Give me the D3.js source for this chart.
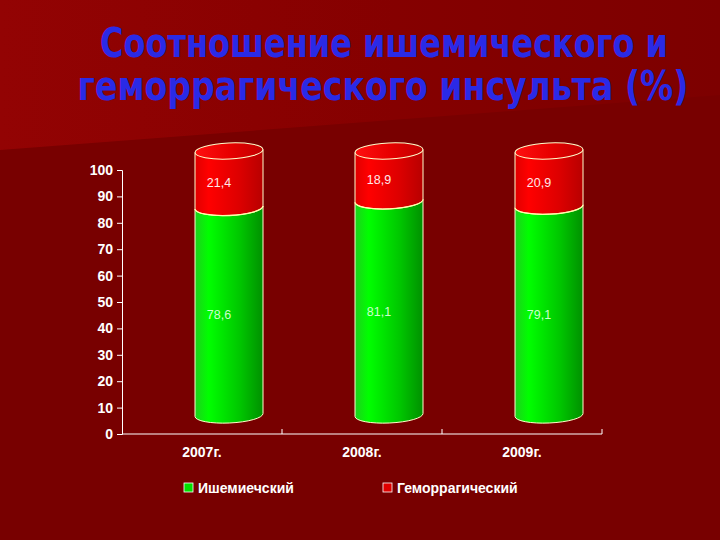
<!DOCTYPE html>
<html>
<head>
<meta charset="utf-8">
<script src="https://cdn.jsdelivr.net/npm/d3@7"></script>
<style>
  body { margin: 0; background: #780000; }
  svg { display: block; }
</style>
</head>
<body>
<div id="container"></div>
<script>
// chart data
var years = ["2007г.", "2008г.", "2009г."];
var ischemic = [78.6, 81.1, 79.1];
var hemorrhagic = [21.4, 18.9, 20.9];
var seriesNames = ["Ишемиечский", "Геморрагический"];
var yTicks = [0, 10, 20, 30, 40, 50, 60, 70, 80, 90, 100];
var titleLines = ["Соотношение ишемического и", "геморрагического инсульта (%)"];

var W = 720, H = 540;
var fmt = function (d) { return d3.format(".1f")(d).replace(".", ","); };

var svg = d3.select("#container").append("svg")
    .attr("width", W)
    .attr("height", H);

var defs = svg.append("defs");

function hGrad(id, stops) {
    var g = defs.append("linearGradient").attr("id", id)
        .attr("x1", "0%").attr("x2", "100%").attr("y1", "0%").attr("y2", "0%");
    stops.forEach(function (s) {
        g.append("stop").attr("offset", s[0]).attr("stop-color", s[1]);
    });
}
hGrad("bgTop", [["0%", "#930303"], ["55%", "#850000"], ["100%", "#7d0000"]]);
hGrad("gGreen", [["0%", "#1ed01e"], ["20%", "#00ff00"], ["65%", "#00c800"], ["100%", "#009000"]]);
hGrad("gRed", [["0%", "#e00000"], ["20%", "#ff0000"], ["65%", "#dd0000"], ["100%", "#b80000"]]);
hGrad("gRedTop", [["0%", "#ff1010"], ["50%", "#e80000"], ["100%", "#c00000"]]);

// background
svg.append("rect").attr("width", W).attr("height", H).attr("fill", "#780000");
svg.append("polygon")
    .attr("points", "0,0 720,0 720,95 0,150")
    .attr("fill", "url(#bgTop)");

// title, squeezed horizontally to the width of the original
var titleX = [384, 383], titleY = [57, 100], titleW = [568, 611];
titleLines.forEach(function (t, i) {
    var g = svg.append("g");
    var txt = g.append("text")
        .attr("text-anchor", "middle")
        .attr("font-family", "DejaVu Sans Condensed, DejaVu Sans")
        .attr("font-weight", "bold")
        .attr("font-size", 40)
        .attr("fill", "#2a2ae6")
        .text(t);
    var k = titleW[i] / txt.node().getComputedTextLength();
    g.attr("transform", "translate(" + titleX[i] + "," + titleY[i] + ") scale(" + k + ",1)");
});

// scales
var x = d3.scaleBand().domain(years).range([122, 602]);
var y = d3.scaleLinear().domain([0, 100]).range([434, 170]);

// 3D depth offset of the cylinders
var dx = 27, dy = -19;
var rx = 34, ry = 8, tilt = 1.5;
var tiltDeg = -Math.asin(tilt / rx) * 180 / Math.PI;

// y axis
var yAxis = svg.append("g")
    .attr("transform", "translate(122,0)")
    .call(d3.axisLeft(y).tickValues(yTicks).tickSize(5).tickPadding(4));
yAxis.select(".domain").attr("stroke", "#ffffff");
yAxis.selectAll(".tick line").attr("stroke", "#ffffff");
yAxis.selectAll("text")
    .attr("fill", "#ffffff")
    .attr("font-family", "Liberation Sans")
    .attr("font-weight", "bold")
    .attr("font-size", 14);

// x axis
var xAxis = svg.append("g")
    .attr("transform", "translate(0,434)")
    .call(d3.axisBottom(x).tickSize(0).tickPadding(13));
xAxis.select(".domain").attr("stroke", "#ffffff").attr("d", "M122,0H602");
xAxis.selectAll("text")
    .attr("fill", "#ffffff")
    .attr("font-family", "Liberation Sans")
    .attr("font-weight", "bold")
    .attr("font-size", 14);
xAxis.selectAll(".sep")
    .data(years)
    .enter()
    .append("line")
    .attr("x1", function (d) { return x(d) + x.bandwidth(); })
    .attr("x2", function (d) { return x(d) + x.bandwidth(); })
    .attr("y1", -5)
    .attr("y2", 0)
    .attr("stroke", "#ffffff");

// cylinder pieces
function cx(d) { return x(d) + x.bandwidth() / 2 + dx; }

function bodyPath(c, v0, v1) {
    var yb = y(v0) + dy, yt = y(v1) + dy;
    return "M" + (c - rx) + "," + (yt + tilt) +
        "L" + (c - rx) + "," + (yb + tilt) +
        "A" + rx + "," + ry + " " + tiltDeg + " 0 0 " + (c + rx) + "," + (yb - tilt) +
        "L" + (c + rx) + "," + (yt - tilt) + "Z";
}
function frontArc(c, v) {
    var yy = y(v) + dy;
    return "M" + (c - rx) + "," + (yy + tilt) +
        "A" + rx + "," + ry + " " + tiltDeg + " 0 0 " + (c + rx) + "," + (yy - tilt);
}

var rows = years.map(function (d, i) { return { year: d, a: ischemic[i], b: hemorrhagic[i] }; });

var cyl = svg.append("g");

// green (ischemic) part
cyl.selectAll("path.green")
    .data(rows)
    .enter()
    .append("path")
    .attr("class", "green")
    .attr("d", function (d) { return bodyPath(cx(d.year), 0, d.a); })
    .attr("fill", "url(#gGreen)")
    .attr("stroke", "#ffffcc")
    .attr("stroke-width", 1);

// red (hemorrhagic) part
cyl.selectAll("path.red")
    .data(rows)
    .enter()
    .append("path")
    .attr("class", "red")
    .attr("d", function (d) { return bodyPath(cx(d.year), d.a, d.a + d.b); })
    .attr("fill", "url(#gRed)")
    .attr("stroke", "#ffffcc")
    .attr("stroke-width", 1);

cyl.selectAll("path.joint")
    .data(rows)
    .enter()
    .append("path")
    .attr("d", function (d) { return frontArc(cx(d.year), d.a); })
    .attr("fill", "none")
    .attr("stroke", "#ffffaa")
    .attr("stroke-width", 1.3);

cyl.selectAll("ellipse.top")
    .data(rows)
    .enter()
    .append("ellipse")
    .attr("cx", function (d) { return cx(d.year); })
    .attr("cy", function (d) { return y(d.a + d.b) + dy; })
    .attr("rx", rx)
    .attr("ry", ry)
    .attr("transform", function (d) {
        return "rotate(" + tiltDeg + "," + cx(d.year) + "," + (y(d.a + d.b) + dy) + ")";
    })
    .attr("fill", "url(#gRedTop)")
    .attr("stroke", "#ffffcc")
    .attr("stroke-width", 1);

// value labels
cyl.selectAll("text.la")
    .data(rows)
    .enter()
    .append("text")
    .attr("x", function (d) { return cx(d.year) - 10; })
    .attr("y", function (d) { return y(d.a / 2) + dy + 8; })
    .attr("text-anchor", "middle")
    .attr("font-family", "Liberation Sans")
    .attr("font-size", 12.5)
    .attr("fill", "#ccffcc")
    .text(function (d) { return fmt(d.a); });

cyl.selectAll("text.lb")
    .data(rows)
    .enter()
    .append("text")
    .attr("x", function (d) { return cx(d.year) - 10; })
    .attr("y", function (d) { return y(d.a + d.b / 2) + dy + 8; })
    .attr("text-anchor", "middle")
    .attr("font-family", "Liberation Sans")
    .attr("font-size", 12.5)
    .attr("fill", "#ffe8e8")
    .text(function (d) { return fmt(d.b); });

// legend
var legendX = [184, 383];
var legendFill = ["#00e000", "#e00000"];
var legend = svg.append("g");
legend.selectAll("rect")
    .data(seriesNames)
    .enter()
    .append("rect")
    .attr("x", function (d, i) { return legendX[i]; })
    .attr("y", 483)
    .attr("width", 9)
    .attr("height", 9)
    .attr("fill", function (d, i) { return legendFill[i]; })
    .attr("stroke", "#ffffff")
    .attr("stroke-width", 0.8);
legend.selectAll("text")
    .data(seriesNames)
    .enter()
    .append("text")
    .attr("x", function (d, i) { return legendX[i] + 14; })
    .attr("y", 493)
    .attr("font-family", "Liberation Sans")
    .attr("font-weight", "bold")
    .attr("font-size", 14)
    .attr("fill", "#ffffff")
    .text(function (d) { return d; });
</script>
</body>
</html>
